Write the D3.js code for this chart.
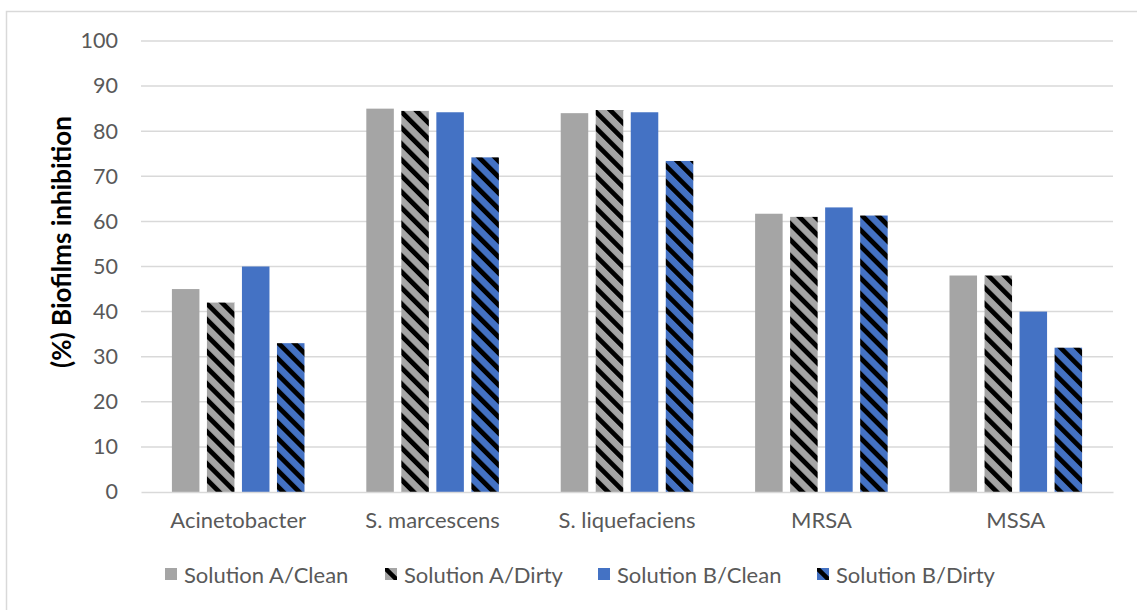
<!DOCTYPE html>
<html>
<head>
<meta charset="utf-8">
<script src="https://cdn.jsdelivr.net/npm/d3@7"></script>
<style>
  html, body { margin: 0; padding: 0; background: #fff; }
  svg { display: block; font-family: Lato, "Open Sans", sans-serif; }
</style>
</head>
<body>
<svg id="chart" width="1137" height="610"></svg>
<script>
// Biofilm inhibition (%) per organism for each solution / surface condition
const categories = ["Acinetobacter", "S. marcescens", "S. liquefaciens", "MRSA", "MSSA"];
const seriesNames = ["Solution A/Clean", "Solution A/Dirty", "Solution B/Clean", "Solution B/Dirty"];
const solutionAClean = [45, 85, 84, 61.7, 48];
const solutionADirty = [42, 84.5, 84.7, 61, 48];
const solutionBClean = [50, 84.2, 84.2, 63.1, 40];
const solutionBDirty = [33, 74.2, 73.4, 61.3, 32];
const yTicks = [0, 10, 20, 30, 40, 50, 60, 70, 80, 90, 100];
const yTitle = "(%) Biofilms inhibition";

const seriesValues = [solutionAClean, solutionADirty, solutionBClean, solutionBDirty];
const seriesColor = ["#a5a5a5", "#a5a5a5", "#4472c4", "#4472c4"];
const seriesHatched = [false, true, false, true];

const svg = d3.select("#chart");
const W = 1137, H = 610;
const plot = { left: 141, right: 1113, top: 41, bottom: 492 };

// chart frame
svg.append("rect")
  .attr("x", 6.5).attr("y", 11.5)
  .attr("width", W + 10).attr("height", H + 10)
  .attr("fill", "#fff").attr("stroke", "#d9d9d9").attr("stroke-width", 1.5);

// diagonal hatch patterns for the "Dirty" series
const defs = svg.append("defs");
["#a5a5a5", "#4472c4"].forEach((c, i) => {
  const p = defs.append("pattern")
    .attr("id", "hatch" + i)
    .attr("patternUnits", "userSpaceOnUse")
    .attr("width", 11.314).attr("height", 10)
    .attr("patternTransform", "rotate(-45)");
  p.append("rect").attr("width", 11.314).attr("height", 10).attr("fill", c);
  p.append("rect").attr("x", 0).attr("width", 4.8).attr("height", 10).attr("fill", "#000");
});
const fillFor = (s) => seriesHatched[s] ? `url(#hatch${seriesColor[s] === "#a5a5a5" ? 0 : 1})` : seriesColor[s];

const y = d3.scaleLinear().domain([0, 100]).range([plot.bottom, plot.top]);
const x = d3.scaleBand().domain(categories).range([plot.left, plot.right]).padding(0);
const groupW = x.step() * 0.682;
const xs = d3.scaleBand().domain(d3.range(seriesNames.length))
  .range([0, groupW]).paddingInner(0.214).paddingOuter(0);

// gridlines
svg.append("g")
  .selectAll("line")
  .data(yTicks.filter(t => t > 0))
  .join("line")
  .attr("x1", plot.left).attr("x2", plot.right)
  .attr("y1", d => y(d)).attr("y2", d => y(d))
  .attr("stroke", "#d9d9d9").attr("stroke-width", 1.5);

// y axis labels
const yAxis = d3.axisLeft(y).tickValues(yTicks).tickSize(0).tickPadding(0);
const gy = svg.append("g").attr("transform", `translate(${plot.left - 23},0)`).call(yAxis);
gy.select(".domain").remove();
gy.selectAll("text")
  .attr("fill", "#595959").attr("font-size", 21.5)
  .attr("font-family", "Lato, 'Open Sans', sans-serif");

// bars
const groups = svg.append("g").selectAll("g")
  .data(categories)
  .join("g")
  .attr("transform", d => `translate(${x(d) + (x.step() - groupW) / 2},0)`);

groups.selectAll("rect")
  .data((d, ci) => seriesValues.map((vals, s) => ({ s, v: vals[ci] })))
  .join("rect")
  .attr("x", d => xs(d.s))
  .attr("width", xs.bandwidth())
  .attr("y", d => y(d.v))
  .attr("height", d => y(0) - y(d.v))
  .attr("fill", d => fillFor(d.s));

// x axis baseline and category labels
const xAxis = d3.axisBottom(x).tickSize(0).tickPadding(0);
const gx = svg.append("g").attr("transform", `translate(0,${plot.bottom})`).call(xAxis);
gx.select(".domain").attr("stroke", "#d9d9d9").attr("stroke-width", 1.5);
gx.selectAll("text")
  .attr("y", 36).attr("dy", 0)
  .attr("fill", "#595959").attr("font-size", 22)
  .attr("font-family", "Lato, 'Open Sans', sans-serif");

// y axis title
svg.append("text")
  .attr("transform", `translate(71,242) rotate(-90)`)
  .attr("text-anchor", "middle")
  .attr("font-size", 26).attr("font-weight", "bold")
  .attr("fill", "#000")
  .text(yTitle);

// legend
const legendX = [165, 385, 598, 817];
const lg = svg.append("g").selectAll("g")
  .data(seriesNames)
  .join("g")
  .attr("transform", (d, i) => `translate(${legendX[i]},568)`);
lg.each(function (d, i) {
  const g = d3.select(this);
  g.append("clipPath").attr("id", "lclip" + i)
    .append("rect").attr("width", 12).attr("height", 12);
  g.append("rect").attr("width", 12).attr("height", 12).attr("fill", seriesColor[i]);
  if (seriesHatched[i]) {
    g.append("line")
      .attr("x1", -2).attr("y1", -2).attr("x2", 14).attr("y2", 14)
      .attr("stroke", "#000").attr("stroke-width", 4.5)
      .attr("clip-path", `url(#lclip${i})`);
  }
  g.append("text")
    .attr("x", 19).attr("y", 15)
    .attr("fill", "#595959").attr("font-size", 22)
    .text(d);
});
</script>
</body>
</html>
